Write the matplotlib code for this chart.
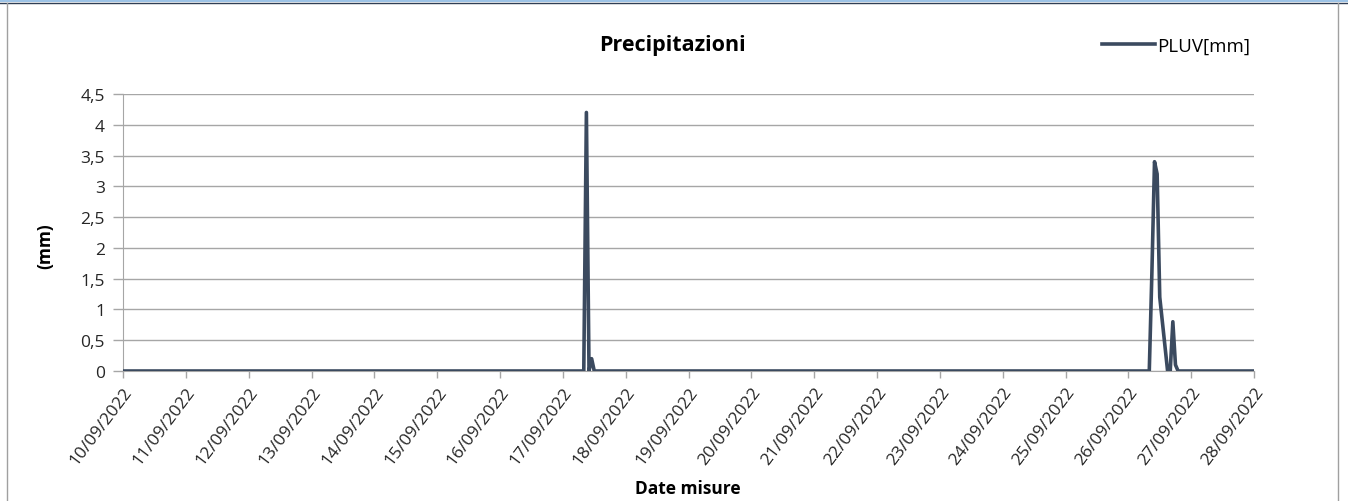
import matplotlib
matplotlib.use("Agg")
import matplotlib.pyplot as plt
import matplotlib.dates as mdates
from matplotlib.lines import Line2D
from matplotlib.patches import Rectangle
from matplotlib.ticker import FuncFormatter, MultipleLocator
import pandas as pd

# hourly readings, only the non-zero hours are listed
start = "2022-09-10 00:00"
end = "2022-09-28 00:00"
rain_times = ["2022-09-17 09:00", "2022-09-17 11:00",
              "2022-09-26 09:00", "2022-09-26 10:00", "2022-09-26 11:00",
              "2022-09-26 12:00", "2022-09-26 13:00", "2022-09-26 14:00",
              "2022-09-26 17:00", "2022-09-26 18:00"]
rain_mm = [4.2, 0.2,
           1.6, 3.4, 3.2,
           1.2, 0.8, 0.4,
           0.8, 0.1]
day_labels = pd.date_range("2022-09-10", "2022-09-28", freq="D")

times = pd.date_range(start, end, freq="h")
pluv = pd.Series(0.0, index=times)
pluv[pd.to_datetime(rain_times)] = rain_mm

plt.rcParams['font.family'] = ['Open Sans', 'DejaVu Sans']

fig = plt.figure(figsize=(13.48, 5.02), dpi=100)
ax = fig.add_axes([123 / 1348, 1 - 372 / 502, 1131 / 1348, 277 / 502])

ax.plot(pluv.index, pluv.values, color="#3b4a5f", lw=2.6, label="PLUV[mm]",
        solid_joinstyle="round", zorder=3)

ax.set_xlim(pd.Timestamp(start), pd.Timestamp(end))
ax.set_ylim(0, 4.5)
ax.yaxis.set_major_locator(MultipleLocator(0.5))
ax.yaxis.set_major_formatter(FuncFormatter(lambda v, p: f"{v:g}".replace(".", ",")))
ax.grid(axis="y", color="#a6a6a6", lw=1)
ax.set_axisbelow(True)

ax.set_xticks(day_labels)
ax.xaxis.set_major_formatter(mdates.DateFormatter("%d/%m/%Y"))
for lab in ax.get_xticklabels():
    lab.set_rotation(53)
    lab.set_ha("right")
    lab.set_va("top")
    lab.set_rotation_mode("anchor")

ax.tick_params(axis="both", colors="#a6a6a6", labelcolor="#262626", labelsize=12.5,
               length=7, width=1)
ax.tick_params(axis="x", length=5, pad=4)
ax.tick_params(axis="y", pad=6)
for s in ["top", "right"]:
    ax.spines[s].set_visible(False)
for s in ["left", "bottom"]:
    ax.spines[s].set_color("#a6a6a6")

ax.set_ylabel("(mm)", fontsize=12.5, fontweight="bold")
ax.yaxis.set_label_coords(-0.061, 0.455)
fig.text(688 / 1348, 1 - 489 / 502, "Date misure", ha="center", va="center",
         fontsize=12.5, fontweight="bold")
fig.text(672 / 1348, 1 - 45 / 502, "Precipitazioni", ha="center", va="center",
         fontsize=15.5, fontweight="bold")

ax.legend(loc="center left", bbox_to_anchor=(1093 / 1348, 1 - 47 / 502),
          bbox_transform=fig.transFigure, frameon=False, fontsize=13.5,
          handlelength=2.8, handletextpad=0.1, borderpad=0)

# frame around the chart
fig.add_artist(Rectangle((0, 1 - 3 / 502), 1, 3 / 502, transform=fig.transFigure,
                         color="#9dc3e6", lw=0))
fig.add_artist(Line2D([0, 1], [1 - 3.5 / 502] * 2, color="#2f3e55", lw=1))
fig.add_artist(Line2D([7 / 1348] * 2, [0, 1 - 4 / 502], color="#a0a0a0", lw=1))
fig.add_artist(Line2D([1338 / 1348] * 2, [0, 1 - 4 / 502], color="#a0a0a0", lw=1))

fig.savefig("out.png", dpi=100)
